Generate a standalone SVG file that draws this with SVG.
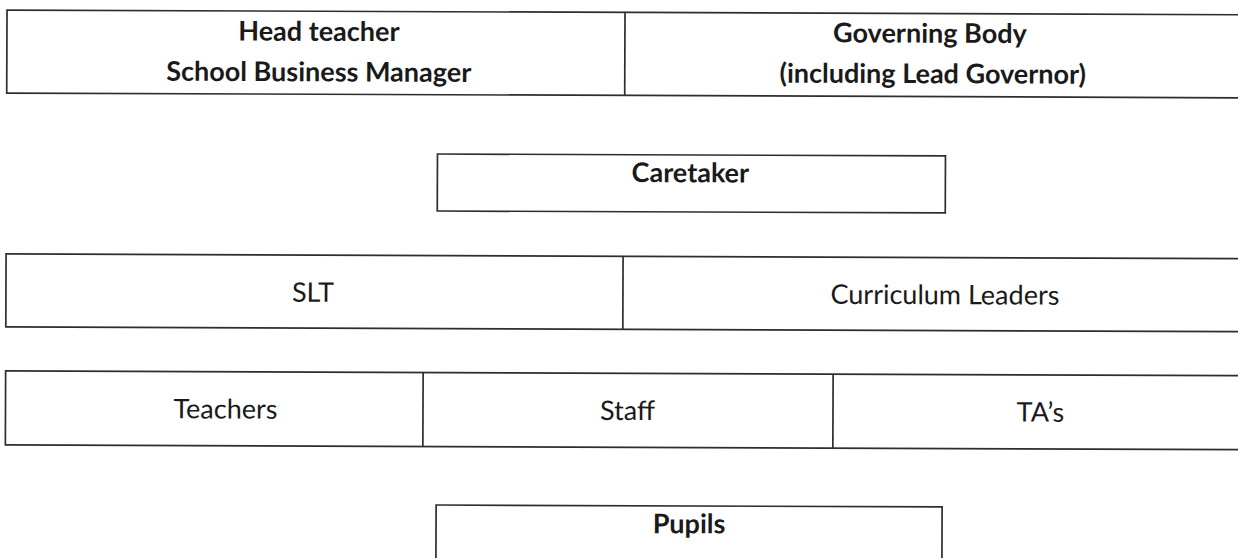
<svg xmlns="http://www.w3.org/2000/svg" width="1238" height="558" viewBox="0 0 1238 558">
<style>
.box{fill:none;stroke:#2e2e2e;stroke-width:1.7}
.div{stroke:#2e2e2e;stroke-width:1.7}
text{font-family:Lato,"Open Sans","Liberation Sans",sans-serif;font-size:27px;fill:#1a1a1a;text-anchor:middle}
.b{font-weight:bold}
</style>
<rect width="1238" height="558" fill="#fff"/>
<g transform="rotate(0.22 619 279)">
<g id="row1">
<rect class="box" x="6" y="12.4" width="1250" height="83"/>
<g id="head-teacher">
<line class="div" x1="624" y1="12.4" x2="624" y2="95.4"/>
<text class="b" x="318" y="42">Head teacher</text>
<text class="b" x="318" y="82.5">School Business Manager</text>
</g>
<g id="governing-body">
<text class="b" x="929" y="41.5">Governing Body</text>
<text class="b" x="932" y="82">(including Lead Governor)</text>
</g>
</g>
<g id="caretaker">
<rect class="box" x="437" y="154.7" width="508" height="57"/>
<text class="b" x="690" y="182">Caretaker</text>
</g>
<g id="row2">
<rect class="box" x="6" y="256.3" width="1250" height="73"/>
<line class="div" x1="623" y1="256.3" x2="623" y2="329.3"/>
<g id="slt"><text x="313" y="303">SLT</text></g>
<g id="curriculum-leaders"><text x="945" y="303">Curriculum Leaders</text></g>
</g>
<g id="row3">
<rect class="box" x="6" y="373.3" width="1250" height="74"/>
<line class="div" x1="423.5" y1="373.3" x2="423.5" y2="447.3"/>
<line class="div" x1="833.5" y1="373.3" x2="833.5" y2="447.3"/>
<g id="teachers"><text x="226" y="420">Teachers</text></g>
<g id="staff"><text x="628" y="420">Staff</text></g>
<g id="tas"><text x="1041" y="420">TA’s</text></g>
</g>
<g id="pupils">
<rect class="box" x="437" y="505.7" width="506" height="80"/>
<text class="b" x="690" y="533">Pupils</text>
</g>
<g id="connectors"/>
</g>
</svg>
